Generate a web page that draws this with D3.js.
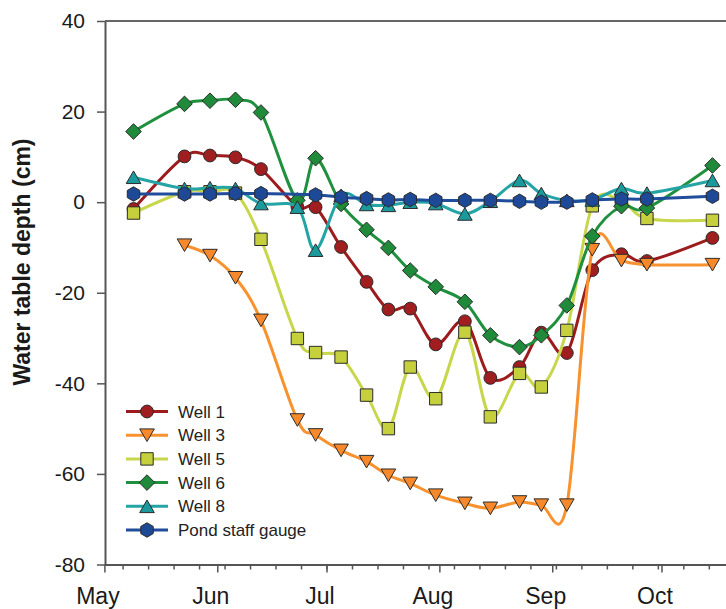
<!DOCTYPE html>
<html><head><meta charset="utf-8">
<script src="https://cdn.jsdelivr.net/npm/d3@7"></script>
<style>body{margin:0;background:#fff}svg{display:block}</style>
</head><body><svg id="c" width="726" height="609"></svg>
<script>
const dates = ["2009-05-09","2009-05-23","2009-05-30","2009-06-06","2009-06-13","2009-06-23","2009-06-28","2009-07-05","2009-07-12","2009-07-18","2009-07-24","2009-07-31","2009-08-08","2009-08-15","2009-08-23","2009-08-29","2009-09-05","2009-09-12","2009-09-20","2009-09-27","2009-10-15"];
const well1 = [-1.5, 10.1, 10.3, 9.9, 7.3, -1.0, -1.1, -9.9, -17.6, -23.7, -23.5, -31.4, -26.3, -38.8, -36.4, -28.8, -33.3, -15.0, -11.5, -13.0, -7.9];
const well3 = [null, -9.5, -11.8, -16.7, -26.1, -48.1, -51.4, -54.8, -57.3, -60.3, -62.1, -64.7, -66.5, -67.6, -66.2, -66.9, -66.9, -10.5, -12.9, -13.8, -13.8];
const well5 = [-2.4, 2.3, 2.3, 2.0, -8.2, -30.1, -33.2, -34.2, -42.6, -50.0, -36.4, -43.4, -28.7, -47.4, -37.8, -40.8, -28.3, -0.8, 0.3, -3.6, -4.0];
const well6 = [15.6, 21.7, 22.4, 22.6, 19.8, 0.4, 9.7, -0.4, -6.1, -10.1, -15.1, -18.7, -22.0, -29.4, -32.0, -29.4, -22.8, -7.5, -0.9, -1.3, 8.1];
const well8 = [5.5, 3.0, 3.2, 3.0, -0.3, -1.1, -10.6, 1.5, -0.5, -0.7, 0.0, -0.3, -2.6, 0.2, 4.8, 1.9, 0.4, 0.5, 3.0, 2.0, 4.8];
const pond = [1.8, 1.8, 1.8, 1.9, 1.9, null, 1.6, 1.1, 0.8, 0.5, 0.6, 0.4, 0.4, 0.4, 0.2, 0.0, 0.0, 0.5, 0.7, 0.7, 1.3];
const seriesNames = ["Well 1","Well 3","Well 5","Well 6","Well 8","Pond staff gauge"];
const yTicks = [-80,-60,-40,-20,0,20,40];
const yTickLabels = ["-80","-60","-40","-20","0","20","40"];
const monthStarts = ["2009-05-01","2009-06-01","2009-07-01","2009-08-01","2009-09-01","2009-10-01"];
const monthLabels = ["May","Jun","Jul","Aug","Sep","Oct"];
const yTitle = "Water table depth (cm)";

const lineColors = ["#9c1c1e","#f7922f","#c8d64c","#1f903e","#25a4a6","#1f4d9b"];
const fillColors = ["#a01d20","#f7892a","#c6d03c","#1f8a3a","#1a9a9c","#1d4996"];
const shapes = ["circle","tridown","square","diamond","triup","hexagon"];

const parse = d3.timeParse("%Y-%m-%d");
const x = d3.scaleTime().domain([parse("2009-05-01"), parse("2009-10-21")]).range([104.4, 734.3]);
const y = d3.scaleLinear().domain([-80, 40]).range([564.5, 21]);

const svg = d3.select("#c");
const font = "'Liberation Sans', Arial, sans-serif";

function shapePath(s) {
  if (s === "circle") { const r = 6.4; return `M${-r},0A${r},${r} 0 1,0 ${r},0A${r},${r} 0 1,0 ${-r},0Z`; }
  if (s === "square") { const h = 6.2; return `M${-h},${-h}H${h}V${h}H${-h}Z`; }
  if (s === "diamond") { const h = 7.8; return `M0,${-h}L${h},0L0,${h}L${-h},0Z`; }
  if (s === "tridown") { const w = 7.3, h = 6.3; return `M${-w},${-h}L${w},${-h}L0,${h}Z`; }
  if (s === "triup") { const w = 7.3, h = 6.3; return `M0,${-h}L${w},${h}L${-w},${h}Z`; }
  if (s === "hexagon") { const r = 7.2; let p = []; for (let i = 0; i < 6; i++) { const a = Math.PI / 3 * i - Math.PI / 2; p.push([r * Math.cos(a), r * Math.sin(a)]); } return "M" + p.map(q => q.join(",")).join("L") + "Z"; }
}

// axes
const yAxis = d3.axisLeft(y).tickValues(yTicks).tickSize(8).tickSizeOuter(0).tickPadding(12)
  .tickFormat((d, i) => yTickLabels[i]);
const gy = svg.append("g").attr("transform", "translate(105,0)").call(yAxis);
gy.selectAll("text").attr("font-family", font).attr("font-size", 21).attr("fill", "#1a1a1a");

const xAxis = d3.axisBottom(x).tickValues(monthStarts.map(parse)).tickSize(8).tickSizeOuter(0).tickFormat((d, i) => monthLabels[i]);
const gx = svg.append("g").attr("transform", "translate(0,564.5)").call(xAxis);
gx.selectAll("text").attr("font-family", font).attr("font-size", 23).attr("fill", "#1a1a1a").attr("dx", -7).attr("dy", null).attr("y", 39.5);

const weeks = d3.timeDay.range(parse("2009-05-06"), parse("2009-10-21"), 7);
const xMinor = d3.axisBottom(x).tickValues(weeks).tickSize(5).tickSizeOuter(0).tickFormat("");
const gxm = svg.append("g").attr("transform", "translate(0,564.5)").call(xMinor);
gxm.select(".domain").remove();

svg.selectAll(".domain").attr("stroke", "#555").attr("stroke-width", 2);
svg.selectAll(".tick line").attr("stroke", "#555").attr("stroke-width", 1.5);

svg.append("line").attr("x1", 105).attr("x2", 726).attr("y1", y(40)).attr("y2", y(40)).attr("stroke", "#666").attr("stroke-width", 2);

svg.append("text").attr("transform", "translate(30,262) rotate(-90)").attr("text-anchor", "middle")
  .attr("font-family", font).attr("font-size", 23).attr("font-weight", "bold").attr("fill", "#1a1a1a").text(yTitle);

// series
const allSeries = [well1, well3, well5, well6, well8, pond];
const line = d3.line().x(d => x(d.date)).y(d => y(d.v)).curve(d3.curveCardinal.tension(0));
allSeries.forEach((vals, i) => {
  const pts = dates.map((d, j) => ({ date: parse(d), v: vals[j] })).filter(d => d.v !== null);
  const g = svg.append("g");
  g.append("path").datum(pts).attr("d", line).attr("fill", "none").attr("stroke", lineColors[i]).attr("stroke-width", 3);
  g.selectAll("path.m").data(pts).enter().append("path").attr("class", "m")
    .attr("transform", d => `translate(${x(d.date)},${y(d.v)})`)
    .attr("d", shapePath(shapes[i])).attr("fill", fillColors[i]).attr("stroke", "#2b2b2b").attr("stroke-width", 1);
});

// legend
const lg = svg.append("g");
seriesNames.forEach((name, i) => {
  const yy = 411.5 + i * 23.7;
  lg.append("line").attr("x1", 126).attr("x2", 168).attr("y1", yy).attr("y2", yy).attr("stroke", lineColors[i]).attr("stroke-width", 3);
  lg.append("path").attr("transform", `translate(147,${yy})`).attr("d", shapePath(shapes[i])).attr("fill", fillColors[i]).attr("stroke", "#2b2b2b").attr("stroke-width", 1);
  lg.append("text").attr("x", 178).attr("y", yy).attr("dy", "0.36em").attr("font-family", font).attr("font-size", 17).attr("fill", "#222").text(name);
});
</script></body></html>
